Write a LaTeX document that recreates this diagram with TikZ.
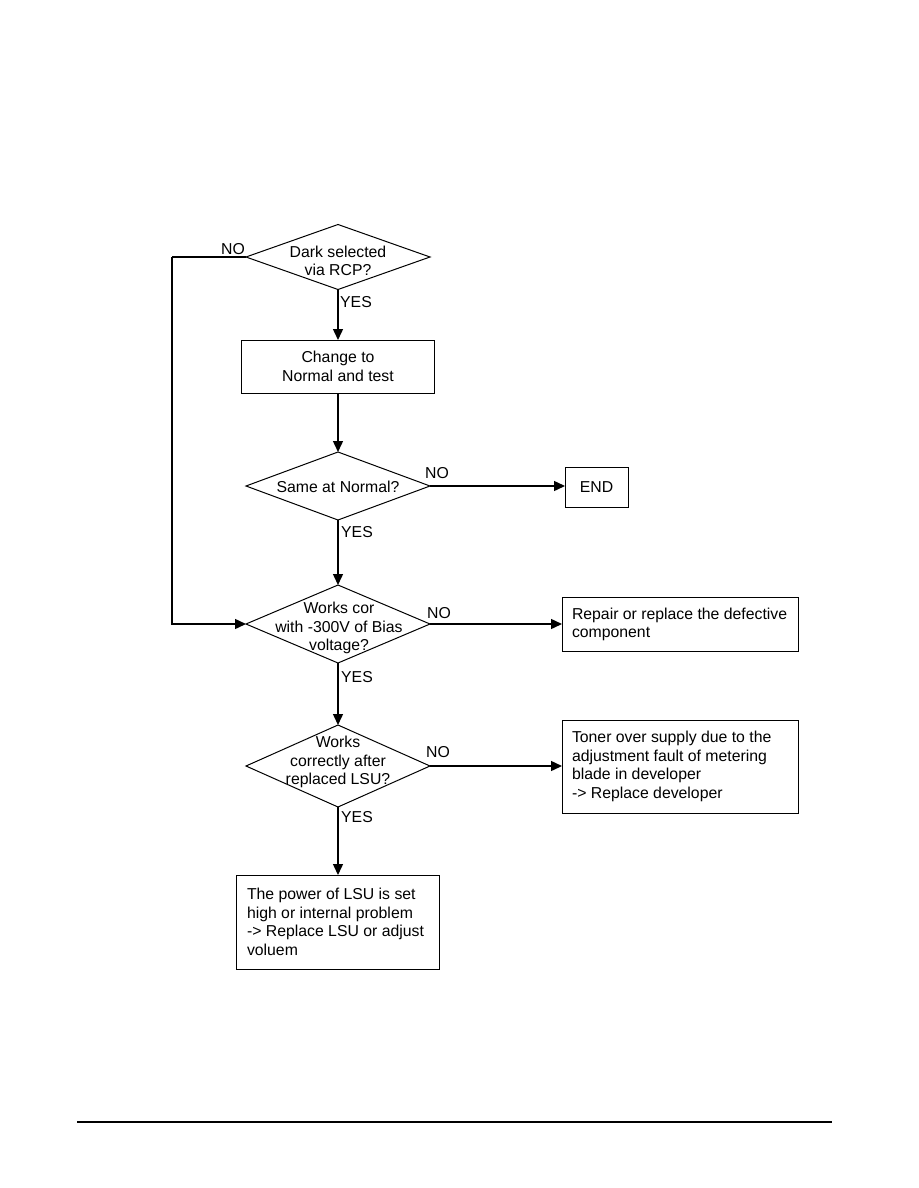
\documentclass[tikz,border=0pt]{standalone}
\usepackage{fontspec}
\setmainfont{Liberation Sans}
\usetikzlibrary{shapes.geometric,arrows.meta}

\tikzset{
  decision/.style={draw, line width=1pt, diamond, inner sep=0pt, outer sep=0pt, minimum width=184pt},
  procbox/.style={draw, line width=1pt, rectangle, inner sep=0pt, outer sep=0pt},
  notebox/.style={procbox, align=flush left, inner sep=10pt},
  flowline/.style={line width=1.4pt, -{Triangle[length=11pt,width=10pt]}},
  answer/.style={inner sep=0pt},
}

\begin{document}
\begin{tikzpicture}[x=1pt,y=-1pt,font=\fontsize{15.8}{18.5}\selectfont]
\useasboundingbox (0,0) rectangle (918,1188);

\coordinate (A) at (338,257);
\coordinate (B) at (338,366.5);
\coordinate (C) at (338,486);
\coordinate (D) at (338,624);
\coordinate (E) at (338,766);
\coordinate (F) at (596.5,487);
\coordinate (G) at (680,624.5);
\coordinate (H) at (680,766.5);
\coordinate (I) at (337.5,922);
\coordinate (back) at (172,257);

% decisions
\node [decision, minimum height=65pt] (darksel) at (A) {};
\node [decision, minimum height=68pt] (samenorm) at (C) {};
\node [decision, minimum height=78pt] (biasok) at (D) {};
\node [decision, minimum height=82pt] (lsuok) at (E) {};

\node [align=center] (darkseltxt) at (338,261) {Dark selected\\via RCP?};
\node [align=center] (samenormtxt) at (338,487) {Same at Normal?};
\node [align=center] (biasoktxt) at (339,628) {Works cor\\with -300V of Bias\\voltage?};
\node [align=center] (lsuoktxt) at (338,762) {Works\\correctly after\\replaced LSU?};

% boxes
\node [procbox, align=center, minimum width=193pt, minimum height=53pt] (change) at (B) {Change to\\Normal and test};
\node [procbox, minimum width=63pt, minimum height=40pt] (finish) at (F) {END};
\node [notebox, text width=216pt, minimum height=53pt] (repair) at (G) {Repair or replace the defective\\component};
\node [notebox, text width=216pt, minimum height=93pt] (toner) at (H) {Toner over supply due to the\\adjustment fault of metering\\blade in developer\\-> Replace developer};
\node [notebox, inner sep=11pt, text width=181pt, minimum height=94pt] (lsupower) at (I) {The power of LSU is set\\high or internal problem\\-> Replace LSU or adjust\\voluem};

% connectors
\draw [flowline] (darksel.south) -- (darksel.south |- change.north);
\draw [flowline] (darksel.south |- change.south) -- (samenorm.north);
\draw [flowline] (samenorm.south) -- (biasok.north);
\draw [flowline] (biasok.south) -- (lsuok.north);
\draw [flowline] (lsuok.south) -- (lsuok.south |- lsupower.north);
\draw [flowline] (samenorm.east) -- (samenorm.east -| finish.west);
\draw [flowline] (biasok.east) -- (biasok.east -| repair.west);
\draw [flowline] (lsuok.east) -- (lsuok.east -| toner.west);
\draw [line width=1.4pt] (darksel.west) -- (back);
\draw [flowline] (back) |- (biasok.west);

\node [answer] at (233,249) {NO};
\node [answer] at (356,302) {YES};
\node [answer] at (437,473) {NO};
\node [answer] at (357,532) {YES};
\node [answer] at (439,613) {NO};
\node [answer] at (357,677) {YES};
\node [answer] at (438,752) {NO};
\node [answer] at (357,817) {YES};

\draw [line width=1.2pt] (77,1122) -- (832,1122);

\end{tikzpicture}
\end{document}
